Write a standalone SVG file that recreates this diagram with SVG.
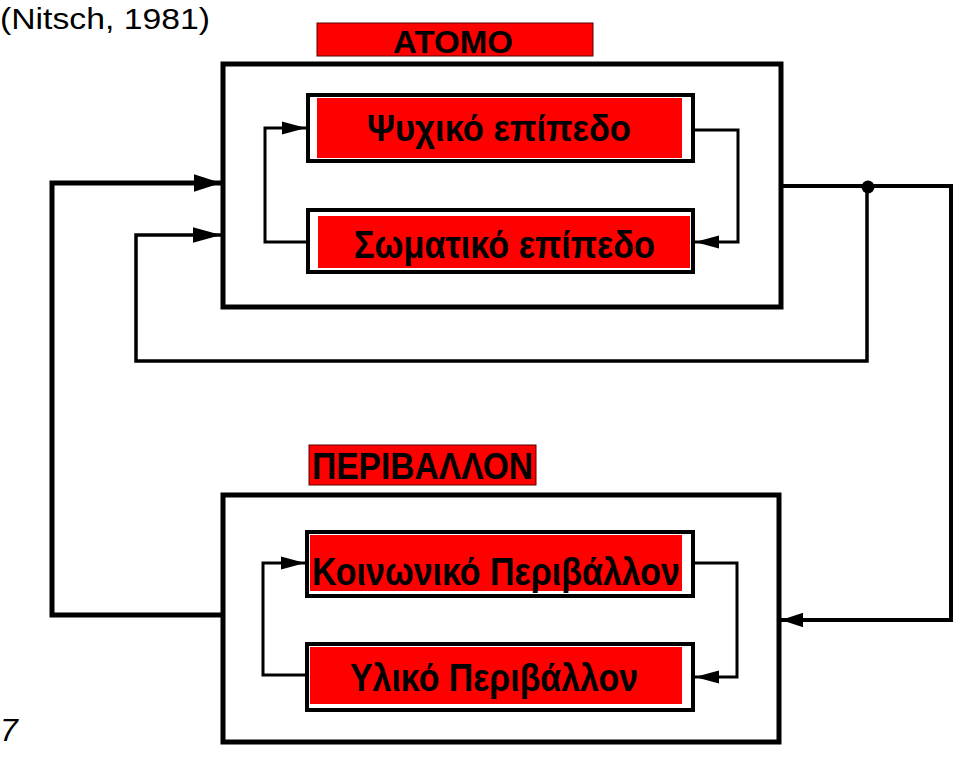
<svg xmlns="http://www.w3.org/2000/svg" width="960" height="757" viewBox="0 0 960 757">
<style>
.frame{fill:none;stroke:#000;stroke-width:5}
.box{fill:#fff;stroke:#000;stroke-width:4}
.red{fill:#ff0000}
.lbl{fill:#ff0000;stroke:#5a0000;stroke-width:1}
.t{font-family:"Liberation Sans",Arial,sans-serif;font-weight:bold;fill:#000}
.ln{fill:none;stroke:#000;stroke-linejoin:miter}
</style>
<defs>
<marker id="ah" markerWidth="8" markerHeight="5" refX="8" refY="2.5" orient="auto" markerUnits="strokeWidth">
<path d="M0,0.3 L8,2.5 L0,4.7 z" fill="#000"/>
</marker>
<marker id="ah2" markerWidth="5.5" markerHeight="3.6" refX="5.5" refY="1.8" orient="auto" markerUnits="strokeWidth">
<path d="M0,0 L5.5,1.8 L0,3.6 z" fill="#000"/>
</marker>
</defs>
<text x="0" y="29" font-family="Liberation Sans,Arial,sans-serif" font-size="30" textLength="210" lengthAdjust="spacingAndGlyphs">(Nitsch, 1981)</text>
<text x="0" y="741" font-family="Liberation Sans,Arial,sans-serif" font-size="32" font-style="italic">7</text>

<g id="atomo">
<rect class="lbl" x="317" y="23" width="276" height="33"/>
<text class="t" x="393" y="53" font-size="32" textLength="120" lengthAdjust="spacingAndGlyphs">ATOMO</text>
<rect class="frame" x="223" y="64" width="558" height="243"/>
</g>
<g id="psychiko">
<rect class="box" x="308" y="95" width="385" height="66"/>
<rect class="red" x="317" y="98" width="365" height="60"/>
<text class="t" x="367" y="141" font-size="36" textLength="264" lengthAdjust="spacingAndGlyphs">Ψυχικό επίπεδο</text>
</g>
<g id="somatiko">
<rect class="box" x="308" y="210" width="385" height="62"/>
<rect class="red" x="318" y="216" width="372" height="52"/>
<text class="t" x="354" y="258" font-size="39" textLength="301" lengthAdjust="spacingAndGlyphs">Σωματικό επίπεδο</text>
</g>

<g id="perivallon">
<rect class="lbl" x="309" y="445" width="227" height="40"/>
<text class="t" x="312" y="479" font-size="36" textLength="221" lengthAdjust="spacingAndGlyphs">ΠΕΡΙΒΑΛΛΟΝ</text>
<rect class="frame" x="223" y="495" width="556" height="247"/>
</g>
<g id="koinoniko">
<rect class="box" x="307" y="532" width="386" height="64"/>
<rect class="red" x="310" y="535" width="372" height="56"/>
<text class="t" x="312" y="585" font-size="39" textLength="368" lengthAdjust="spacingAndGlyphs">Κοινωνικό Περιβάλλον</text>
</g>
<g id="yliko">
<rect class="box" x="307" y="644" width="386" height="66"/>
<rect class="red" x="310" y="647" width="372" height="57"/>
<text class="t" x="350" y="691" font-size="39" textLength="288" lengthAdjust="spacingAndGlyphs">Υλικό Περιβάλλον</text>
</g>

<g id="connectors">
<path class="ln" stroke-width="3" d="M306,242 H265 V128 H306" marker-end="url(#ah)"/>
<path class="ln" stroke-width="3" d="M695,130 H738 V242 H695" marker-end="url(#ah)"/>
<path class="ln" stroke-width="3" d="M305,675 H263 V563 H305" marker-end="url(#ah)"/>
<path class="ln" stroke-width="3" d="M695,563 H737 V677 H695" marker-end="url(#ah)"/>
<path class="ln" stroke-width="5" d="M221,615 H52 V183 H221" marker-end="url(#ah2)"/>
<path class="ln" stroke-width="4" d="M783,186 H951 V620 H781" marker-end="url(#ah2)"/>
<path class="ln" stroke-width="3.5" d="M867,187 V361 H136 V235 H221" marker-end="url(#ah)"/>
<circle cx="868" cy="187" r="6.5" fill="#000"/>
</g>
</svg>
